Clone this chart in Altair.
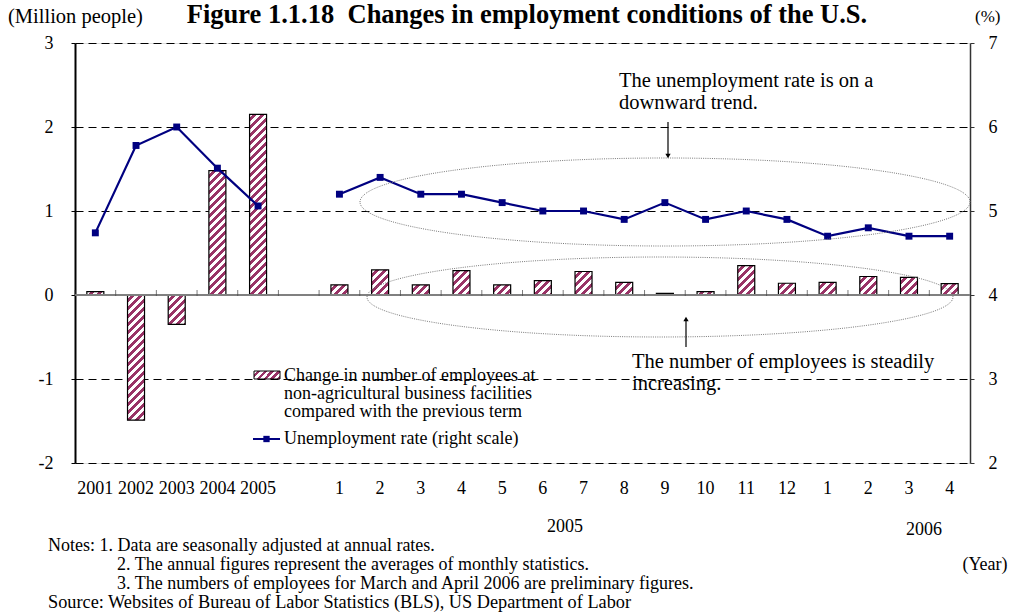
import altair as alt
import numpy as np

# ---------------- data ----------------
keys = ["2001", "2002", "2003", "2004", "2005", "gap",
        "m1", "m2", "m3", "m4", "m5", "m6", "m7", "m8", "m9", "m10", "m11", "m12",
        "n1", "n2", "n3", "n4"]
labels = ["2001", "2002", "2003", "2004", "2005", "",
          "1", "2", "3", "4", "5", "6", "7", "8", "9", "10", "11", "12",
          "1", "2", "3", "4"]
emp_change = [0.04, -1.49, -0.35, 1.48, 2.15, None,
              0.12, 0.30, 0.12, 0.29, 0.12, 0.17, 0.28, 0.15, 0.02, 0.04, 0.35, 0.14,
              0.15, 0.22, 0.21, 0.135]
unemp_rate = [4.74, 5.78, 6.00, 5.51, 5.06, None,
              5.2, 5.4, 5.2, 5.2, 5.1, 5.0, 5.0, 4.9, 5.1, 4.9, 5.0, 4.9,
              4.7, 4.8, 4.7, 4.7]
segment = ["annual"] * 6 + ["monthly"] * 16

TITLE = "Figure 1.1.18\u00a0 Changes in employment conditions of the U.S."
NOTES = ["Notes: 1. Data are seasonally adjusted at annual rates.",
         "2. The annual figures represent the averages of monthly statistics.",
         "3. The numbers of employees for March and April 2006 are preliminary figures.",
         "Source: Websites of Bureau of Labor Statistics (BLS), US Department of Labor"]

# ---------------- layout / style ----------------
W, H = 895, 420
PL, PT = 75, 43
LEFT_DOM = [-2, 3]
RIGHT_DOM = [2, 7]
PX_PER_UNIT = H / (LEFT_DOM[1] - LEFT_DOM[0])
BAR_W = 17
MAROON = "#993366"
NAVY = "#000080"
FONT = "Liberation Serif"


def hatch(w, h, period=8.0):
    """Diagonal '/' stripes as a linear gradient in bounding-box units."""
    h = max(h, 0.5)
    L = w + h
    n = int(np.ceil(L / period))
    stops = []
    for k in range(n):
        a = k * period / L
        m = min((k + 0.5) * period / L, 1.0)
        b = min((k + 1) * period / L, 1.0)
        stops += [{"offset": a, "color": "#ffffff"}, {"offset": m, "color": "#ffffff"},
                  {"offset": m, "color": MAROON}, {"offset": b, "color": MAROON}]
    kk = (w + h) / (w * w + h * h)
    return {"gradient": "linear", "x1": 0, "y1": 0, "x2": w * kk, "y2": h * kk,
            "stops": stops}


bar_rows = [{"key": k, "v": v, "grad": hatch(BAR_W, abs(v) * PX_PER_UNIT)}
            for k, v in zip(keys, emp_change) if v is not None]
line_rows = [{"key": k, "r": r, "seg": s}
             for k, r, s in zip(keys, unemp_rate, segment) if r is not None]
label_rows = [{"key": k, "label": l} for k, l in zip(keys, labels)]

xscale = alt.Scale(domain=keys, paddingInner=0, paddingOuter=0)
yleft = alt.Scale(domain=LEFT_DOM, nice=False, zero=False)
yright = alt.Scale(domain=RIGHT_DOM, nice=False, zero=False)

one = alt.Data(values=[{}])


def px(x):
    return alt.value(x - PL)


def py(y):
    return alt.value(y - PT)


def text(t, x, y, size=16, align="left", weight="normal"):
    return alt.Chart(one).mark_text(
        text=t, font=FONT, fontSize=size, align=align, baseline="middle",
        fontWeight=weight, color="black").encode(x=px(x), y=py(y))


# ---------------- left group (bars) ----------------
bars = alt.Chart(alt.Data(values=bar_rows)).mark_bar(
    width=BAR_W, stroke="black", strokeWidth=1.2).encode(
    x=alt.X("key:N", scale=xscale, axis=None),
    y=alt.Y("v:Q", scale=yleft, axis=alt.Axis(
        values=[-2, -1, 0, 1, 2, 3], labelExpr="'' + datum.value", title=None,
        grid=True, gridDash=[8, 5], gridColor="black", gridWidth=1,
        domainColor="black", domainWidth=2, tickColor="black", tickSize=4,
        labelFont=FONT, labelFontSize=18, labelPadding=18, labelColor="black")),
    fill=alt.Fill("grad:N", scale=None),
)

zero_line = alt.Chart(one).mark_rule(color="#808080", strokeWidth=2).encode(
    y=alt.datum(0, scale=yleft))

ticks = alt.Chart(alt.Data(values=label_rows)).mark_tick(
    orient="vertical", size=6, thickness=1, color="#444", yOffset=-2).encode(
    x=alt.X("key:N", scale=xscale, axis=None, bandPosition=0),
    y=alt.datum(0, scale=yleft))

xlabels = alt.Chart(alt.Data(values=label_rows)).mark_text(
    font=FONT, fontSize=18, baseline="middle", color="black").encode(
    x=alt.X("key:N", scale=xscale, axis=None),
    y=py(489),
    text="label:N")

left_group = alt.layer(bars, zero_line, ticks, xlabels)

# ---------------- right group (line) ----------------
line_base = alt.Chart(alt.Data(values=line_rows)).encode(
    x=alt.X("key:N", scale=xscale, axis=None),
    y=alt.Y("r:Q", scale=yright, axis=alt.Axis(
        orient="right", values=[2, 3, 4, 5, 6, 7], title=None, grid=False,
        domainColor="#333", domainWidth=1.5, tickColor="#333", tickSize=4,
        labelFont=FONT, labelFontSize=18, labelPadding=14, labelColor="black")),
    detail="seg:N",
)
line = line_base.mark_line(color=NAVY, strokeWidth=2.2)
points = line_base.mark_square(color=NAVY, size=48, opacity=1)
right_group = alt.layer(line, points)

# ---------------- annotations ----------------
KAPPA = 0.5523


def ellipse_path(ratio):
    k, r = KAPPA, ratio
    return (f"M-1,0 C-1,{-k*r:.4f} {-k:.4f},{-r:.4f} 0,{-r:.4f} "
            f"C{k:.4f},{-r:.4f} 1,{-k*r:.4f} 1,0 "
            f"C1,{k*r:.4f} {k:.4f},{r:.4f} 0,{r:.4f} "
            f"C{-k:.4f},{r:.4f} -1,{k*r:.4f} -1,0 Z")


def ellipse(cx, cy, rx, ry):
    return alt.Chart(one).mark_point(
        shape=ellipse_path(ry / rx), size=(2 * rx) ** 2, filled=False,
        stroke="#7a7a7a", strokeWidth=1, strokeDash=[1, 1.2], opacity=1).encode(
        x=px(cx), y=py(cy))


def arrow(x, y_from, y_to, direction):
    shaft = alt.Chart(one).mark_rule(color="black", strokeWidth=1.2).encode(
        x=px(x), y=py(y_from), y2=py(y_to + (-4 if direction == "down" else 4)))
    head = alt.Chart(one).mark_point(
        shape="triangle-down" if direction == "down" else "triangle-up",
        filled=True, size=28, color="black", opacity=1).encode(
        x=px(x), y=py(y_to + (-3 if direction == "down" else 3)))
    return [shaft, head]


ann = [
    ellipse(665, 202, 305, 44),
    ellipse(660, 297, 293, 40),
    *arrow(668, 122, 159, "down"),
    *arrow(686, 347, 316, "up"),
    text("The unemployment rate is on a", 619, 81, 20.5),
    text("downward trend.", 619, 103, 20.5),
    text("The number of employees is steadily", 632, 362, 20.5),
    text("increasing.", 632, 384, 20.5),
]

# legend
legend_swatch = alt.Chart(one).mark_rect(
    fill=hatch(27, 8, period=7), stroke="black", strokeWidth=1).encode(
    x=px(254), x2=px(280), y=py(371), y2=py(379))
legend_line = alt.Chart(one).mark_rule(color=NAVY, strokeWidth=2).encode(
    x=px(253), x2=px(280), y=py(439))
legend_pt = alt.Chart(one).mark_square(color=NAVY, size=40, opacity=1).encode(
    x=px(266.5), y=py(439))
legend = [
    legend_swatch, legend_line, legend_pt,
    text("Change in number of employees at", 284, 376, 18),
    text("non-agricultural business facilities", 284, 394, 18),
    text("compared with the previous term", 284, 412, 18),
    text("Unemployment rate (right scale)", 284, 439, 18),
]

outer_text = [
    text(TITLE, 527, 15, 26.5, align="center", weight="bold"),
    text("(Million people)", 8, 17, 20.5),
    text("(%)", 975, 17, 17),
    text("2005", 565, 527, 18, align="center"),
    text("2006", 924, 530, 18, align="center"),
    text("(Year)", 985, 565, 18, align="center"),
    text(NOTES[0], 48, 546, 18),
    text(NOTES[1], 117, 565, 18),
    text(NOTES[2], 117, 584, 18),
    text(NOTES[3], 48, 603, 18.3),
]

chart = alt.layer(left_group, right_group, *ann, *legend, *outer_text).resolve_scale(
    y="independent").properties(
    width=W, height=H, autosize="none",
    padding={"left": PL, "top": PT, "right": 1012 - PL - W, "bottom": 612 - PT - H},
).configure_view(stroke=None).configure(background="white")

chart.save("out.html", embed_options={"renderer": "svg", "actions": False})
